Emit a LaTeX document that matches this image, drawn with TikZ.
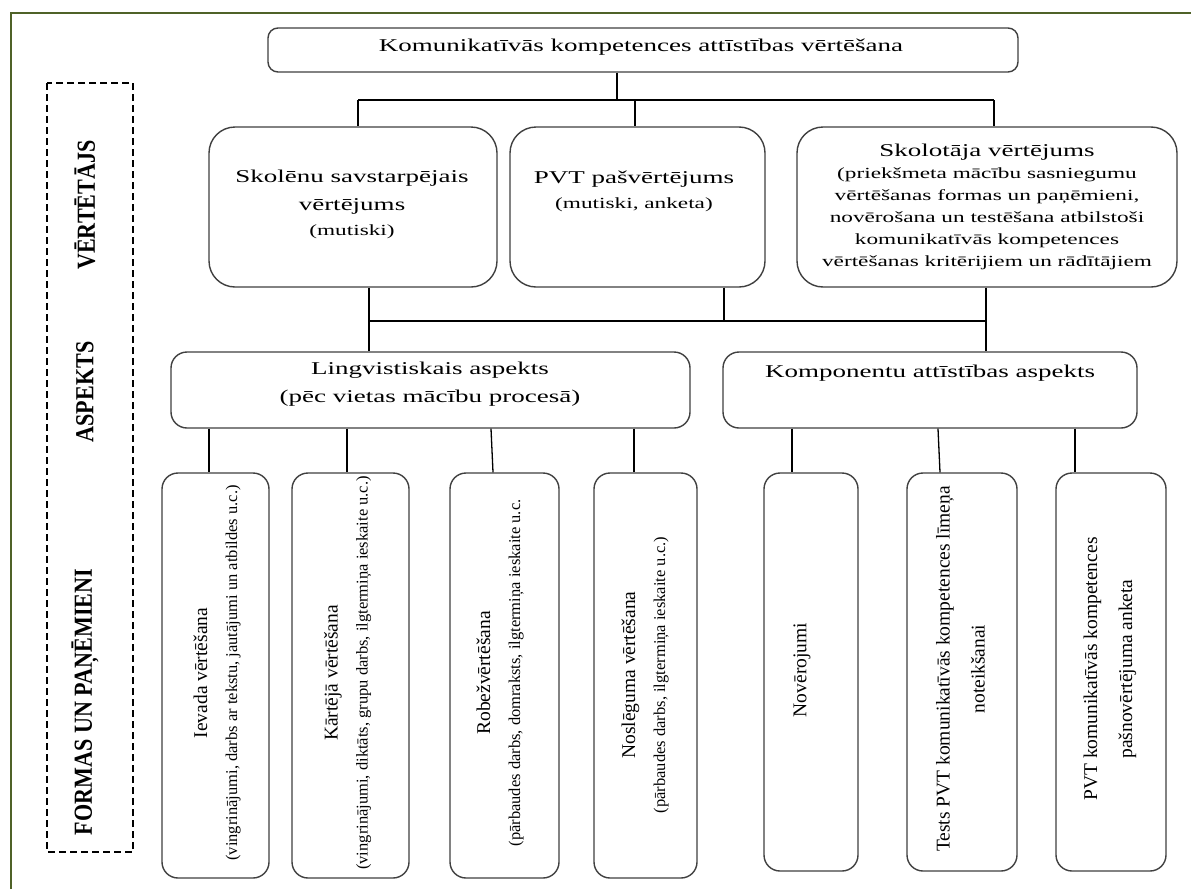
\documentclass[tikz,border=0pt]{standalone}
\usepackage{fontspec}
\setmainfont{Liberation Serif}
\newfontfamily\widefont[FakeStretch=1.5]{Liberation Serif}
\newfontfamily\labelfont[FakeStretch=0.85]{Liberation Serif}
\definecolor{frameolive}{RGB}{79,98,40}
\definecolor{boxgray}{RGB}{64,64,64}
\newcommand{\fsz}[2]{\fontsize{#1}{#2}\selectfont}
\begin{document}
\begin{tikzpicture}[x=1pt,y=-1pt,
  box/.style={draw=boxgray, line width=1.4pt, rounded corners=#1, inner sep=0pt},
  box/.default=12pt,
  wire/.style={draw=black, line width=1.3pt},
  htext/.style={align=center, inner sep=0pt, font=\widefont\fsz{18}{28}},
  vtext/.style={align=center, inner sep=0pt, rotate=90, font=\fsz{19.5}{35}},
  side/.style={inner sep=0pt, rotate=90, font=\labelfont\bfseries\fsz{26}{26}}]
\useasboundingbox (0,0) rectangle (1191,889);
\fill[white] (0,0) rectangle (1191,889);

% page frame (top and left edges)
\draw[frameolive, line width=2.4pt] (11,889) -- (11,13) -- (1191,13);

% row labels
\draw[black, line width=1.6pt, dash pattern=on 7pt off 4pt] (47,83) rectangle (133,852);
\node[side] (lab1) at (85,205) {VĒRTĒTĀJS};
\node[side] (lab2) at (85,392) {ASPEKTS};
\node[side] (lab3) at (85,702) {FORMAS UN PAŅĒMIENI};

% top level
\node[box=10pt, minimum width=750, minimum height=44] (top) at (643,50) {};
\node[htext] (topt) at (641,47) {Komunikatīvās kompetences attīstības vērtēšana};

% evaluators
\node[box=26pt, minimum width=288, minimum height=160] (sk) at (353,207) {};
\node[box=26pt, minimum width=255, minimum height=160] (pvt) at (637.5,207) {};
\node[box=26pt, minimum width=380, minimum height=160] (sko) at (987,207) {};
\node[htext] (skt) at (352,204) {Skolēnu savstarpējais\\vērtējums\\[-3pt]{\fsz{15.5}{20}(mutiski)}};
\node[htext] (pvtt) at (634,191) {PVT pašvērtējums\\[-3pt]{\fsz{15.5}{20}(mutiski, anketa)}};
\node[htext, font=\widefont\fsz{15.5}{22}] (skot) at (987,207)
  {{\fsz{18}{22}Skolotāja vērtējums}\\(priekšmeta mācību sasniegumu\\vērtēšanas formas un paņēmieni,\\novērošana un testēšana atbilstoši\\komunikatīvās kompetences\\vērtēšanas kritērijiem un rādītājiem};

% aspects
\node[box=16pt, minimum width=519, minimum height=76] (ling) at (430.5,390) {};
\node[box=16pt, minimum width=414, minimum height=76] (komp) at (930,390) {};
\node[htext] (lingt) at (430,384) {Lingvistiskais aspekts\\(pēc vietas mācību procesā)};
\node[htext] (kompt) at (930,373) {Komponentu attīstības aspekts};

% forms and techniques
\node[box=16pt, minimum width=107, minimum height=405] (b1) at (215.5,675.5) {};
\node[box=16pt, minimum width=117, minimum height=405] (b2) at (350.5,675.5) {};
\node[box=16pt, minimum width=109, minimum height=405] (b3) at (504.5,675.5) {};
\node[box=16pt, minimum width=103, minimum height=405] (b4) at (645.5,675.5) {};
\node[box=16pt, minimum width=94, minimum height=398] (b5) at (811,672) {};
\node[box=16pt, minimum width=110, minimum height=398] (b6) at (962,672) {};
\node[box=16pt, minimum width=110, minimum height=398] (b7) at (1111,672) {};

\node[vtext] (b1t) at (217,673) {Ievada vērtēšana\\[-5pt]{\fsz{16.5}{20}(vingrinājumi, darbs ar tekstu, jautājumi un atbildes u.c.)}};
\node[vtext] (b2t) at (347.5,673) {Kārtējā vērtēšana\\[-5pt]{\fsz{16.5}{20}(vingrinājumi, diktāts, grupu darbs, ilgtermiņa ieskaite u.c.)}};
\node[vtext] (b3t) at (500,673) {Robežvērtēšana\\[-5pt]{\fsz{16.5}{20}(pārbaudes darbs, domraksts, ilgtermiņa ieskaite u.c.}};
\node[vtext] (b4t) at (645,675) {Noslēguma vērtēšana\\[-5pt]{\fsz{16.5}{20}(pārbaudes darbs, ilgtermiņa ieskaite u.c.)}};
\node[vtext] (b5t) at (802,670) {Novērojumi};
\node[vtext] (b6t) at (960.5,669) {Tests PVT komunikatīvās kompetences līmeņa\\noteikšanai};
\node[vtext] (b7t) at (1110,669) {PVT komunikatīvās kompetences\\pašnovērtējuma anketa};

% connectors: top level to evaluators
\coordinate (aT) at (617,100);
\coordinate (aL) at (358,100);
\coordinate (aM) at (635,100);
\coordinate (aR) at (994,100);
\draw[wire] (top.south -| aT) -- (aT);
\draw[wire] (aL) -- (aR);
\draw[wire] (aL) -- (aL |- sk.north);
\draw[wire] (aM) -- (aM |- pvt.north);
\draw[wire] (aR) -- (aR |- sko.north);

% connectors: evaluators to aspects
\coordinate (bL) at (369,321);
\coordinate (bM) at (724,321);
\coordinate (bR) at (986,321);
\draw[wire] (bL |- sk.south) -- (bL |- ling.north);
\draw[wire] (bL) -- (bR);
\draw[wire] (bM |- pvt.south) -- (bM);
\draw[wire] (bR |- sko.south) -- (bR |- komp.north);

% connectors: aspects to forms
\coordinate (l1) at (209,0);
\coordinate (l2) at (347,0);
\coordinate (l3) at (491,0);
\coordinate (l3b) at (493,0);
\coordinate (l4) at (634,0);
\coordinate (k1) at (792,0);
\coordinate (k2) at (938,0);
\coordinate (k2b) at (940,0);
\coordinate (k3) at (1075,0);
\draw[wire] (ling.south -| l1) -- (b1.north -| l1);
\draw[wire] (ling.south -| l2) -- (b2.north -| l2);
\draw[wire] (ling.south -| l3) -- (b3.north -| l3b);
\draw[wire] (ling.south -| l4) -- (b4.north -| l4);
\draw[wire] (komp.south -| k1) -- (b5.north -| k1);
\draw[wire] (komp.south -| k2) -- (b6.north -| k2b);
\draw[wire] (komp.south -| k3) -- (b7.north -| k3);
\end{tikzpicture}
\end{document}
